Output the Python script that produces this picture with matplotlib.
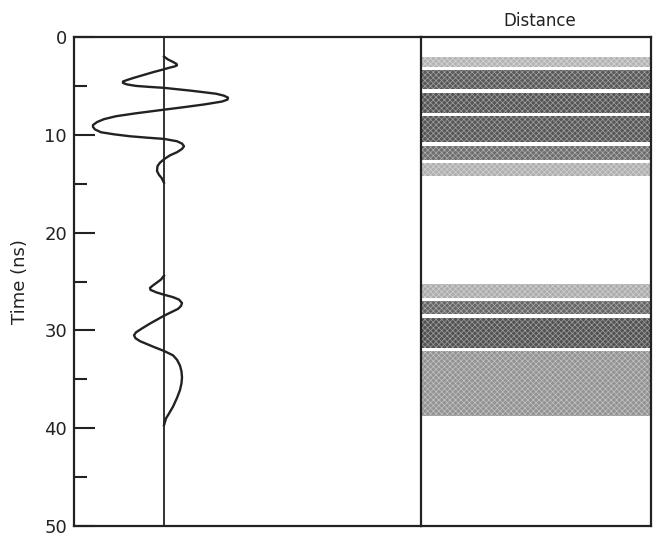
import matplotlib.pyplot as plt

# wavelet trace (time in ns, amplitude in arbitrary units)
trace1_time = [2.0, 2.3, 2.55, 2.75, 2.9, 3.0, 3.15, 3.3,
               3.6, 3.9, 4.2, 4.4, 4.55, 4.7, 4.85, 5.0, 5.1, 5.2,
               5.5, 5.8, 6.0, 6.2, 6.4, 6.6, 6.9, 7.2, 7.43,
               7.8, 8.1, 8.4, 8.7, 9.0, 9.2, 9.45, 9.74, 9.95, 10.15, 10.3, 10.42,
               10.66, 10.9, 11.17, 11.45, 11.78, 12.1, 12.5,
               12.85, 13.2, 13.7, 14.1, 14.4, 14.9]
trace1_amp = [0, 4, 9, 12.5, 13, 11, 5, 0,
              -11, -21, -31, -37, -41, -41, -37, -28, -15, 0,
              28, 52, 60, 64, 63.5, 58, 40, 18, 0,
              -28, -48, -60, -67, -71, -71, -69, -63, -50, -34, -16, 0,
              13, 18, 20, 18, 13, 6, 0,
              -4, -6.5, -7, -5, -2.5, 0]

trace2_time = [24.4, 24.8, 25.1, 25.4, 25.65, 25.85, 26.1, 26.35,
               26.6, 26.85, 27.2, 27.5, 27.8, 28.1, 28.5,
               28.9, 29.3, 29.8, 30.2, 30.5, 30.8, 31.1, 31.4, 31.7, 32.1,
               32.55, 33.0, 33.6, 34.2, 34.8, 35.4, 36.1, 36.9, 37.8, 38.5, 39.0, 39.7]
trace2_amp = [0, -3, -7, -11, -14, -13.5, -8, 0,
              9, 15, 18, 17, 14, 8, 0,
              -7, -14, -22, -28, -30, -28.5, -24, -17, -10, 0,
              9, 13, 16, 17.5, 18, 17.5, 16, 13, 9, 5, 2, 0]

# layers in the distance panel (top, bottom in ns) and their grey level
band_top = [2.0, 3.35, 5.75, 8.05, 11.15, 12.9, 25.3, 26.95, 28.75, 32.15]
band_bottom = [3.1, 5.35, 7.75, 10.75, 12.6, 14.2, 26.65, 28.35, 31.75, 38.8]
band_grey = ['#b4b4b4', '#595959', '#555555', '#575757', '#6e6e6e', '#afafaf',
             '#acacac', '#666666', '#525252', '#939393']

major_ticks = [0, 10, 20, 30, 40, 50]
minor_ticks = [5, 15, 25, 35, 45]

plt.rcParams['hatch.linewidth'] = 0.5

fig = plt.figure(figsize=(6.56, 5.37), dpi=100)
ax = fig.add_axes([74/656, 11/537, 347/656, 489/537])
ax2 = fig.add_axes([421/656, 11/537, 230/656, 489/537], sharey=ax)

ax.plot(trace1_amp, trace1_time, color='#222222', lw=1.7, solid_joinstyle='round')
ax.plot(trace2_amp, trace2_time, color='#222222', lw=1.7, solid_joinstyle='round')
ax.axvline(0, color='#222222', lw=1.3)
ax.set_xlim(-90, 257)
ax.set_ylim(50, 0)

for t, b, g in zip(band_top, band_bottom, band_grey):
    ax2.axhspan(t, b, facecolor=g, edgecolor=(1, 1, 1, 0.45), lw=0, hatch='xxxxxx')
ax2.set_xlim(0, 1)

for a in (ax, ax2):
    for s in a.spines.values():
        s.set_linewidth(1.6)
        s.set_color('#222222')
    a.set_xticks([])
ax.spines['right'].set_visible(False)

ax.set_yticks(major_ticks)
ax.set_yticks(minor_ticks, minor=True)
ax.tick_params(axis='y', which='major', direction='in', length=15, width=1.5,
               labelsize=13, pad=5, colors='#222222')
ax.tick_params(axis='y', which='minor', direction='in', length=9.5, width=1.5,
               colors='#222222')
ax2.tick_params(axis='y', which='both', left=False, labelleft=False)

fig.text(20/656, 1 - 282/537, 'Time (ns)', rotation=90, ha='center', va='center',
         fontsize=13, color='#222222')
fig.text(540/656, 1 - 21/537, 'Distance', ha='center', va='center',
         fontsize=12, color='#222222')

fig.savefig('out.png', dpi=100)
